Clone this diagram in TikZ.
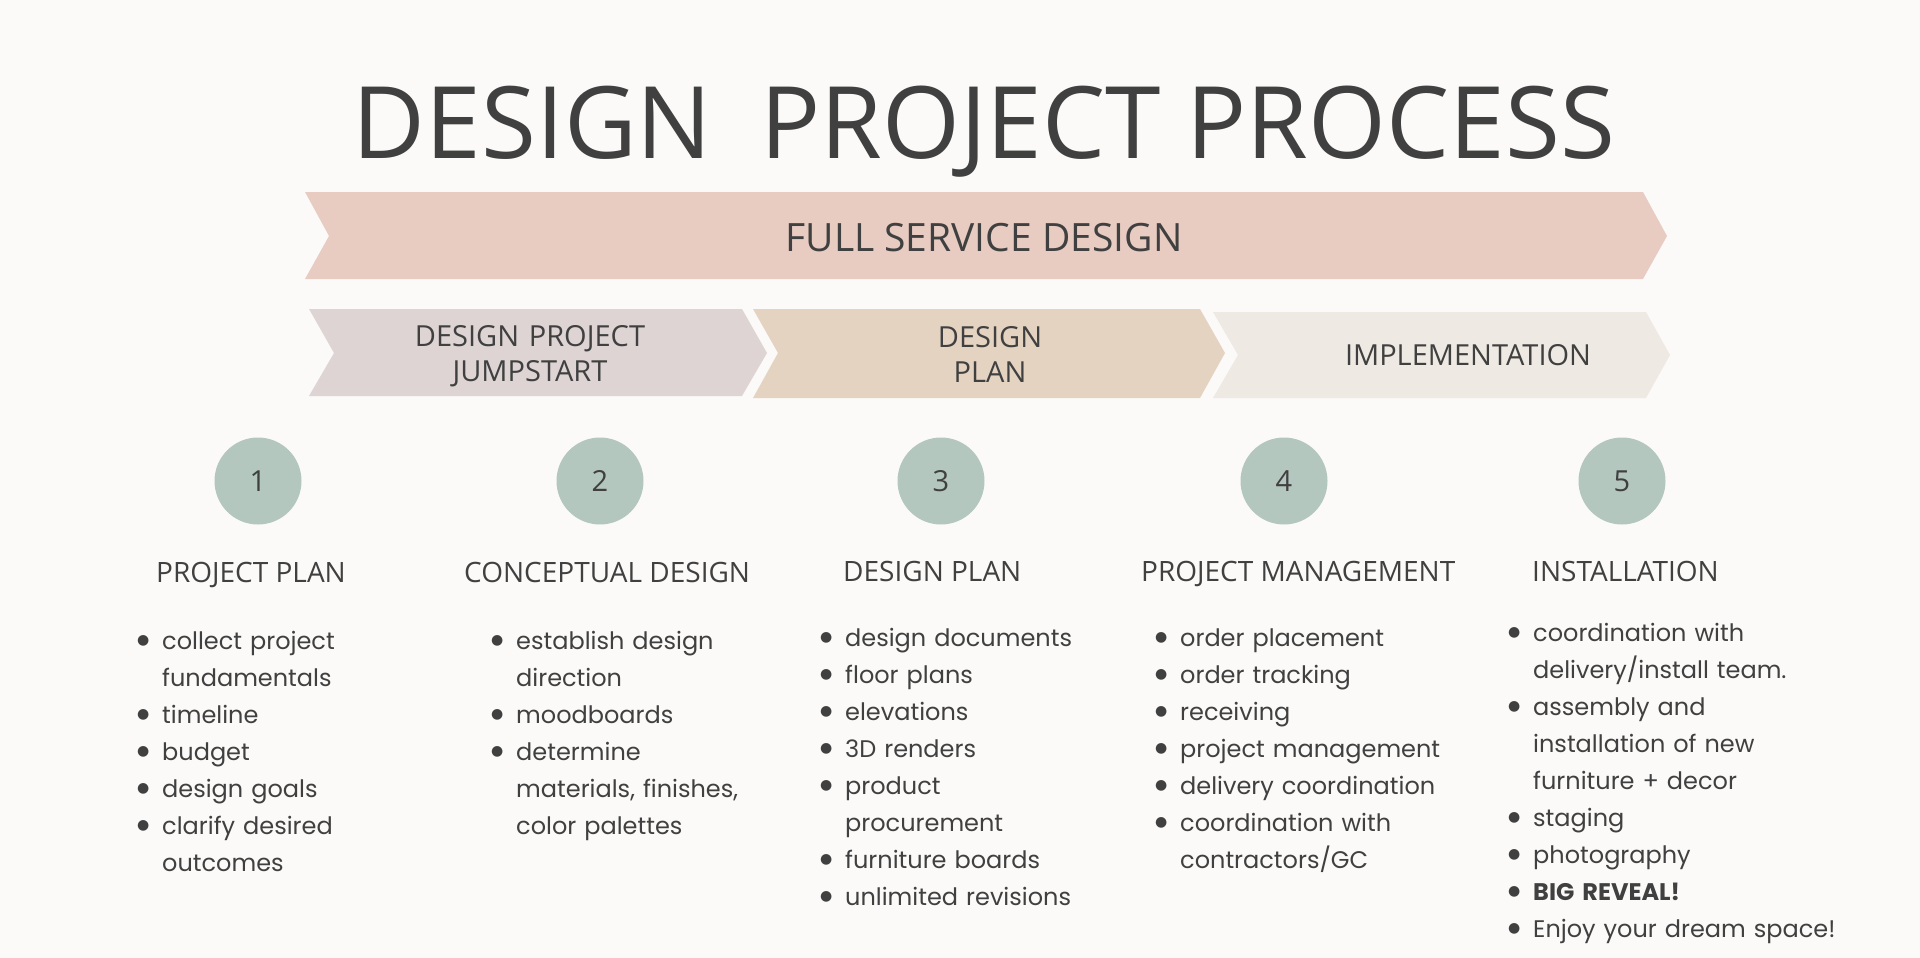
\documentclass[tikz,border=0pt]{standalone}
\usepackage{fontspec}
\setmainfont{Open Sans}
\newfontfamily\listfont{Poppins}
\newfontfamily\symfont{DejaVu Sans}
\usepackage{tikz}
\usetikzlibrary{positioning}

\definecolor{bgcol}{HTML}{FBFAF8}
\definecolor{textcol}{HTML}{404040}
\definecolor{fullcol}{HTML}{E8CCC2}
\definecolor{jumpcol}{HTML}{DED4D4}
\definecolor{plancol}{HTML}{E5D3C1}
\definecolor{implcol}{HTML}{EEE9E2}
\definecolor{stepcol}{HTML}{B3C7BE}

\newcommand{\bitem}[1]{\hangindent=25pt\hangafter=1\noindent\makebox[25pt][l]{\raisebox{4.5pt}{\symfont\fontsize{14}{14}\selectfont ●}}#1\par}

\begin{document}
\begin{tikzpicture}[x=1pt, y=-1pt,
			stepnode/.style={circle, fill=stepcol, minimum size=87pt, inner sep=0pt, text=textcol, font=\fontsize{29}{35}\selectfont},
			headnode/.style={anchor=base west, inner sep=0pt, text=textcol, font=\fontsize{28}{34}\selectfont},
			chevtext/.style={anchor=base, inner sep=0pt, text=textcol, align=center, font=\fontsize{29}{35}\selectfont},
			listnode/.style={anchor=base west, inner sep=0pt, text width=380pt, align=left, text=textcol, font=\listfont\fontsize{24}{37}\selectfont},
		]
		
			%Background
			\fill[bgcol] (0,0) rectangle (1920,958);
			\useasboundingbox (0,0) rectangle (1920,958);
		
			%Title
			\node[anchor=base, inner sep=0pt, text=textcol, font=\fontsize{100}{120}\selectfont] (title) at (984,158) {DESIGN\hspace{22pt} PROJECT PROCESS};
		
			%Chevrons
			\fill[fullcol] (305,192) -- (1643,192) -- (1667,236) -- (1643,279) -- (305,279) -- (329,236) -- cycle;
			\fill[jumpcol] (309,309) -- (742,309) -- (767,353) -- (742,396) -- (309,396) -- (334,353) -- cycle;
			\fill[plancol] (753,309) -- (1200,309) -- (1225,353) -- (1200,398) -- (753,398) -- (778,353) -- cycle;
			\fill[implcol] (1213,312) -- (1646,312) -- (1670,355) -- (1646,398) -- (1213,398) -- (1238,355) -- cycle;
		
			\node[chevtext, font=\fontsize{39}{45}\selectfont]	(full)	at (984,251)	{FULL SERVICE DESIGN};
			\node[chevtext, text width=300pt]	(jump)	at (530,346)	{DESIGN PROJECT\\JUMPSTART};
			\node[chevtext, text width=200pt]	(plan)	at (990,347)	{DESIGN\\PLAN};
			\node[chevtext]						(impl)	at (1468,365)	{IMPLEMENTATION};
		
			%Steps
			\node[stepnode]	(s1)	at (258,481)	{1};
			\node[stepnode]	(s2)	at (600,481)	{2};
			\node[stepnode]	(s3)	at (941,481)	{3};
			\node[stepnode]	(s4)	at (1284,481)	{4};
			\node[stepnode]	(s5)	at (1622,481)	{5};
		
			%Headings
			\node[headnode]	(h1)	at (156,582)	{PROJECT PLAN};
			\node[headnode]	(h2)	at (464,582)	{CONCEPTUAL DESIGN};
			\node[headnode]	(h3)	at (843,581)	{DESIGN PLAN};
			\node[headnode]	(h4)	at (1141,581)	{PROJECT MANAGEMENT};
			\node[headnode]	(h5)	at (1532,581)	{INSTALLATION};
		
			%Lists
			\node[listnode]	(l1)	at (137,649)	{\bitem{collect project\newline fundamentals}\bitem{timeline}\bitem{budget}\bitem{design goals}\bitem{clarify desired\newline outcomes}};
			\node[listnode]	(l2)	at (491,649)	{\bitem{establish design\newline direction}\bitem{moodboards}\bitem{determine\newline materials, finishes,\newline color palettes}};
			\node[listnode]	(l3)	at (820,646)	{\bitem{design documents}\bitem{floor plans}\bitem{elevations}\bitem{3D renders}\bitem{product\newline procurement}\bitem{furniture boards}\bitem{unlimited revisions}};
			\node[listnode]	(l4)	at (1155,646)	{\bitem{order placement}\bitem{order tracking}\bitem{receiving}\bitem{project management}\bitem{delivery coordination}\bitem{coordination with\newline contractors/GC}};
			\node[listnode]	(l5)	at (1508,641)	{\bitem{coordination with\newline delivery/install team.}\bitem{assembly and\newline installation of new\newline furniture + decor}\bitem{staging}\bitem{photography}\bitem{\textbf{BIG REVEAL!}}\bitem{Enjoy your dream space!}};
		
		\end{tikzpicture}
\end{document}
